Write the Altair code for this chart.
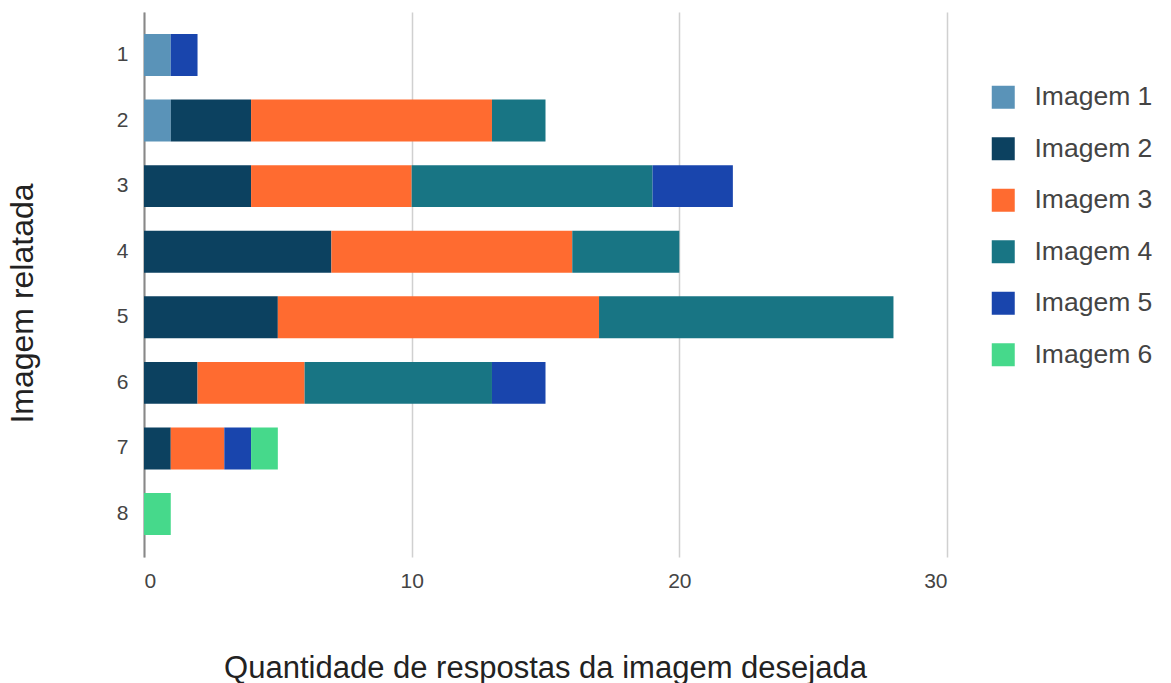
import altair as alt
import pandas as pd

categories = ["1", "2", "3", "4", "5", "6", "7", "8"]
series = ["Imagem 1", "Imagem 2", "Imagem 3", "Imagem 4", "Imagem 5", "Imagem 6"]
imagem1 = [1, 1, 0, 0, 0, 0, 0, 0]
imagem2 = [0, 3, 4, 7, 5, 2, 1, 0]
imagem3 = [0, 9, 6, 9, 12, 4, 2, 0]
imagem4 = [0, 2, 9, 4, 11, 7, 0, 0]
imagem5 = [1, 0, 3, 0, 0, 2, 1, 0]
imagem6 = [0, 0, 0, 0, 0, 0, 1, 1]
colors = ["#5a93b8", "#0c4160", "#ff6b30", "#187584", "#1945ad", "#46d98b"]

values = [imagem1, imagem2, imagem3, imagem4, imagem5, imagem6]
rows = []
for si, (s, vals) in enumerate(zip(series, values)):
    for c, v in zip(categories, vals):
        if v > 0:
            rows.append({"cat": c, "serie": s, "valor": v, "ordem": si})
df = pd.DataFrame(rows)

font = "Liberation Sans"

chart = alt.Chart(df).mark_bar().encode(
    y=alt.Y("cat:N", sort=categories,
            scale=alt.Scale(paddingInner=0.36, paddingOuter=0.335),
            axis=alt.Axis(title="Imagem relatada", titleFontSize=32, titleFont=font,
                          titleFontWeight="normal", titleColor="#222",
                          titleX=-122, titleY=291, titleAngle=-90, titleAlign="center",
                          titleBaseline="middle",
                          labelFontSize=21, labelFont=font, labelColor="#444", labelPadding=16,
                          ticks=False, domainColor="#888", domainWidth=2, grid=False)),
    x=alt.X("valor:Q", stack="zero",
            scale=alt.Scale(domain=[0, 30], nice=False),
            axis=alt.Axis(title="Quantidade de respostas da imagem desejada", values=[0, 10, 20, 30],
                          titleFontSize=31, titleFont=font, titleFontWeight="normal",
                          titleColor="#222", titleX=401, titleY=120, titleAlign="center",
                          titleBaseline="alphabetic",
                          labelFontSize=21, labelFont=font, labelColor="#444", labelPadding=13,
                          ticks=False, domain=False, grid=True, gridColor="#d0d0d0", gridWidth=1.5)),
    color=alt.Color("serie:N", scale=alt.Scale(domain=series, range=colors),
                    legend=alt.Legend(title=None, orient="none", legendX=846, legendY=72,
                                      symbolType="square", symbolSize=529, symbolStrokeWidth=0,
                                      labelFontSize=26.5, labelFont=font, labelColor="#444",
                                      rowPadding=24.5, labelOffset=18)),
    order=alt.Order("ordem:Q"),
).properties(
    width=803, height=545,
    autosize=alt.AutoSizeParams(type="none"),
    padding={"left": 144, "top": 12, "right": 224, "bottom": 126},
    background="white",
).configure_view(stroke=None)

chart.save("out.html", embed_options={"renderer": "svg", "actions": False})
